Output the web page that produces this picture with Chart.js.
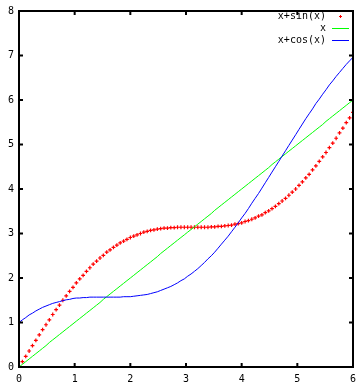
<!DOCTYPE html>
<html>
<head>
<meta charset="utf-8">
<script src="https://cdn.jsdelivr.net/npm/chart.js@4/dist/chart.umd.min.js"></script>
<style>
    html, body { margin: 0; padding: 0; background: #fff; }
    #wrap { width: 364px; height: 391px; position: relative; }
</style>
</head>
<body>
<div id="wrap"><canvas id="plot"></canvas></div>
<script>
// sample positions (100 samples on [0, 6])
const xs = [0, 0.061, 0.121, 0.182, 0.242, 0.303, 0.364, 0.424, 0.485, 0.545,
    0.606, 0.667, 0.727, 0.788, 0.848, 0.909, 0.970, 1.030, 1.091, 1.152,
    1.212, 1.273, 1.333, 1.394, 1.455, 1.515, 1.576, 1.636, 1.697, 1.758,
    1.818, 1.879, 1.939, 2.000, 2.061, 2.121, 2.182, 2.242, 2.303, 2.364,
    2.424, 2.485, 2.545, 2.606, 2.667, 2.727, 2.788, 2.848, 2.909, 2.970,
    3.030, 3.091, 3.152, 3.212, 3.273, 3.333, 3.394, 3.455, 3.515, 3.576,
    3.636, 3.697, 3.758, 3.818, 3.879, 3.939, 4.000, 4.061, 4.121, 4.182,
    4.242, 4.303, 4.364, 4.424, 4.485, 4.545, 4.606, 4.667, 4.727, 4.788,
    4.848, 4.909, 4.970, 5.030, 5.091, 5.152, 5.212, 5.273, 5.333, 5.394,
    5.455, 5.515, 5.576, 5.636, 5.697, 5.758, 5.818, 5.879, 5.939, 6.000]

const sinValues = [0.00, 0.12, 0.24, 0.36, 0.48, 0.60, 0.72, 0.84, 0.95, 1.06,
    1.18, 1.29, 1.39, 1.50, 1.60, 1.70, 1.79, 1.89, 1.98, 2.06,
    2.15, 2.23, 2.31, 2.38, 2.45, 2.51, 2.58, 2.63, 2.69, 2.74,
    2.79, 2.83, 2.87, 2.91, 2.94, 2.97, 3.00, 3.03, 3.05, 3.07,
    3.08, 3.10, 3.11, 3.12, 3.12, 3.13, 3.13, 3.14, 3.14, 3.14,
    3.14, 3.14, 3.14, 3.14, 3.14, 3.14, 3.14, 3.15, 3.15, 3.16,
    3.16, 3.17, 3.18, 3.19, 3.21, 3.22, 3.24, 3.27, 3.29, 3.32,
    3.35, 3.39, 3.42, 3.47, 3.51, 3.56, 3.61, 3.67, 3.73, 3.79,
    3.86, 3.93, 4.00, 4.08, 4.16, 4.25, 4.33, 4.43, 4.52, 4.62,
    4.72, 4.82, 4.93, 5.03, 5.14, 5.26, 5.37, 5.49, 5.60, 5.72]

const lineValues = [0.00, 0.06, 0.12, 0.18, 0.24, 0.30, 0.36, 0.42, 0.48, 0.55,
    0.61, 0.67, 0.73, 0.79, 0.85, 0.91, 0.97, 1.03, 1.09, 1.15,
    1.21, 1.27, 1.33, 1.39, 1.45, 1.52, 1.58, 1.64, 1.70, 1.76,
    1.82, 1.88, 1.94, 2.00, 2.06, 2.12, 2.18, 2.24, 2.30, 2.36,
    2.42, 2.48, 2.55, 2.61, 2.67, 2.73, 2.79, 2.85, 2.91, 2.97,
    3.03, 3.09, 3.15, 3.21, 3.27, 3.33, 3.39, 3.45, 3.52, 3.58,
    3.64, 3.70, 3.76, 3.82, 3.88, 3.94, 4.00, 4.06, 4.12, 4.18,
    4.24, 4.30, 4.36, 4.42, 4.48, 4.55, 4.61, 4.67, 4.73, 4.79,
    4.85, 4.91, 4.97, 5.03, 5.09, 5.15, 5.21, 5.27, 5.33, 5.39,
    5.45, 5.52, 5.58, 5.64, 5.70, 5.76, 5.82, 5.88, 5.94, 6.00]

const cosValues = [1.00, 1.06, 1.11, 1.17, 1.21, 1.26, 1.30, 1.34, 1.37, 1.40,
    1.43, 1.45, 1.47, 1.49, 1.51, 1.52, 1.54, 1.55, 1.55, 1.56,
    1.56, 1.57, 1.57, 1.57, 1.57, 1.57, 1.57, 1.57, 1.57, 1.57,
    1.57, 1.58, 1.58, 1.58, 1.59, 1.60, 1.61, 1.62, 1.63, 1.65,
    1.67, 1.69, 1.72, 1.75, 1.78, 1.81, 1.85, 1.89, 1.94, 1.98,
    2.04, 2.09, 2.15, 2.21, 2.28, 2.35, 2.43, 2.50, 2.58, 2.67,
    2.76, 2.85, 2.94, 3.04, 3.14, 3.24, 3.35, 3.45, 3.56, 3.68,
    3.79, 3.90, 4.02, 4.14, 4.26, 4.38, 4.50, 4.62, 4.74, 4.86,
    4.98, 5.10, 5.22, 5.34, 5.46, 5.58, 5.69, 5.80, 5.92, 6.02,
    6.13, 6.23, 6.34, 6.43, 6.53, 6.62, 6.71, 6.80, 6.88, 6.96]

const seriesNames = ["x+sin(x)", "x", "x+cos(x)"]
const seriesColors = ["#ff0000", "#00ff00", "#0000ff"]
const xTicks = [0, 1, 2, 3, 4, 5, 6]
const yTicks = [0, 1, 2, 3, 4, 5, 6, 7, 8]

const tickFont = { family: "'DejaVu Sans Mono', monospace", size: 10 }

function toPoints(values) {
    return xs.map((x, i) => ({ x, y: values[i] }))
}

// gnuplot-like frame: full border, inward ticks mirrored on all sides, key top right
const framePlugin = {
    id: "frame",
    afterDraw(chart) {
        const { ctx, chartArea: area, scales } = chart
        ctx.save()
        ctx.strokeStyle = "#000"
        ctx.lineWidth = 2
        ctx.strokeRect(area.left, area.top, area.right - area.left, area.bottom - area.top)

        ctx.beginPath()
        xTicks.forEach((v) => {
            const px = scales.x.getPixelForValue(v)
            ctx.moveTo(px, area.bottom)
            ctx.lineTo(px, area.bottom - 4)
            ctx.moveTo(px, area.top)
            ctx.lineTo(px, area.top + 4)
        })
        yTicks.forEach((v) => {
            const py = scales.y.getPixelForValue(v)
            ctx.moveTo(area.left, py)
            ctx.lineTo(area.left + 4, py)
            ctx.moveTo(area.right, py)
            ctx.lineTo(area.right - 4, py)
        })
        ctx.stroke()

        // key
        ctx.font = "10px 'DejaVu Sans Mono', monospace"
        ctx.fillStyle = "#000"
        ctx.textAlign = "right"
        ctx.textBaseline = "middle"
        const textRight = 326
        seriesNames.forEach((name, i) => {
            const y = 16 + i * 12
            ctx.fillText(name, textRight, y)
            ctx.strokeStyle = seriesColors[i]
            ctx.lineWidth = 1
            ctx.beginPath()
            if (i === 0) {
                ctx.moveTo(339, y + 0.5)
                ctx.lineTo(342, y + 0.5)
                ctx.moveTo(340.5, y - 1)
                ctx.lineTo(340.5, y + 2)
            } else {
                ctx.moveTo(332, y + 0.5)
                ctx.lineTo(349, y + 0.5)
            }
            ctx.stroke()
        })
        ctx.restore()
    }
}

new Chart(document.getElementById("plot"), {
    type: "scatter",
    data: {
        datasets: [
            {
                label: seriesNames[0],
                data: toPoints(sinValues),
                showLine: false,
                pointStyle: "cross",
                pointRadius: 1.9,
                borderColor: seriesColors[0],
                backgroundColor: seriesColors[0],
                borderWidth: 1.2,
                order: 3
            },
            {
                label: seriesNames[1],
                data: toPoints(lineValues),
                showLine: true,
                pointRadius: 0,
                borderColor: seriesColors[1],
                borderWidth: 1,
                order: 2
            },
            {
                label: seriesNames[2],
                data: toPoints(cosValues),
                showLine: true,
                pointRadius: 0,
                borderColor: seriesColors[2],
                borderWidth: 1,
                order: 1
            }
        ]
    },
    options: {
        responsive: true,
        maintainAspectRatio: false,
        animation: false,
        events: [],
        layout: { padding: { top: 8, right: 11, left: 0, bottom: 0 } },
        plugins: {
            legend: { display: false },
            tooltip: { enabled: false }
        },
        scales: {
            x: {
                type: "linear",
                min: 0,
                max: 6,
                afterFit: (scale) => { scale.height = 24 },
                afterBuildTicks: (scale) => { scale.ticks = xTicks.map((v) => ({ value: v })) },
                grid: { display: false, drawTicks: false },
                border: { display: false },
                ticks: { color: "#000", font: tickFont, padding: 6, maxRotation: 0 }
            },
            y: {
                type: "linear",
                min: 0,
                max: 8,
                afterFit: (scale) => { scale.width = 19 },
                afterBuildTicks: (scale) => { scale.ticks = yTicks.map((v) => ({ value: v })) },
                grid: { display: false, drawTicks: false },
                border: { display: false },
                ticks: { color: "#000", font: tickFont, padding: 5 }
            }
        }
    },
    plugins: [framePlugin]
})
</script>
</body>
</html>
